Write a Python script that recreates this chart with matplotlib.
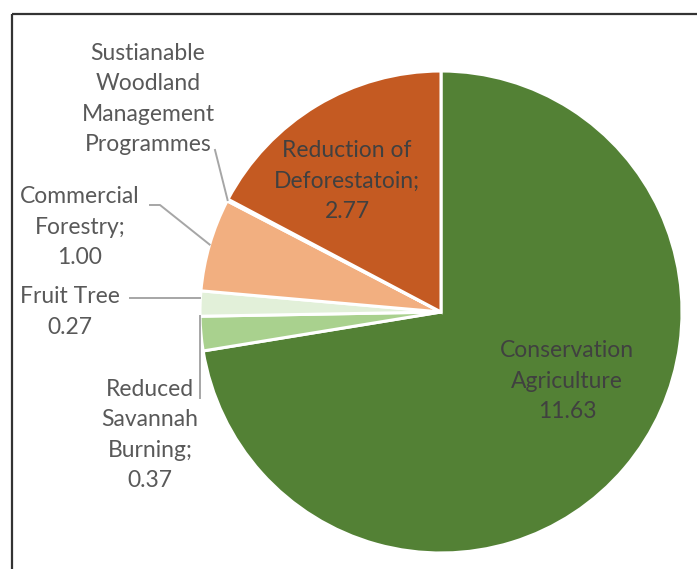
import numpy as np
import matplotlib
matplotlib.use('Agg')
import matplotlib.pyplot as plt

W, H = 697, 569

names = ['Conservation Agriculture', 'Reduced Savannah Burning', 'Fruit Tree',
         'Commercial Forestry', 'Sustainable Woodland Management Programmes',
         'Reduction of Deforestation']
values = [11.63, 0.37, 0.27, 1.00, 0.02, 2.77]
colors = ['#538135', '#A9D18E', '#E2F0D9', '#F2AF80', '#E9A877', '#C45A22']
label_texts = ['Conservation\nAgriculture\n11.63',
               'Reduced\nSavannah\nBurning;\n0.37',
               'Fruit Tree\n0.27',
               'Commercial\nForestry;\n1.00',
               'Sustianable\nWoodland\nManagement\nProgrammes',
               'Reduction of\nDeforestatoin;\n2.77']

plt.rcParams['font.family'] = ['Lato', 'DejaVu Sans']

fig = plt.figure(figsize=(W / 100, H / 100), dpi=100)
ax = fig.add_axes([0, 0, 1, 1])

cx, cy, r = 441, H - 312, 241
wedges, _ = ax.pie(values, colors=colors, startangle=90, counterclock=False,
                   center=(cx, cy), radius=r,
                   wedgeprops={'edgecolor': 'white', 'linewidth': 2.2})
ax.set_xlim(0, W)
ax.set_ylim(0, H)
ax.set_aspect('equal')
ax.axis('off')


def edge_point(w, frac):
    a = np.deg2rad(w.theta1 + (w.theta2 - w.theta1) * frac)
    return cx + r * np.cos(a), cy + r * np.sin(a)


txt_kw = dict(fontsize=16.5, ha='center', va='center', linespacing=1.55)
lead_kw = dict(color='#A6A6A6', lw=1.4)

# inside labels
ax.text(567, H - 381, label_texts[0], color='#404040', **txt_kw)
ax.text(347, H - 181, label_texts[5], color='#404040', **txt_kw)

# outside labels
ax.text(150, H - 435, label_texts[1], color='#595959', **txt_kw)
ax.text(70, H - 312, label_texts[2], color='#595959', **txt_kw)
ax.text(80, H - 227, label_texts[3], color='#595959', **txt_kw)
ax.text(148, H - 99, label_texts[4], color='#595959', **txt_kw)

# leader lines
x, y = edge_point(wedges[1], 0.0)
ax.plot([200, 200], [H - 398, y], **lead_kw)
x, y = edge_point(wedges[2], 0.75)
ax.plot([130, x], [H - 298, H - 298], **lead_kw)
x, y = edge_point(wedges[3], 0.5)
ax.plot([150, 160, x], [H - 205, H - 205, y], **lead_kw)
x, y = edge_point(wedges[4], 0.5)
ax.plot([215, x], [H - 150, y], **lead_kw)

# frame
ax.plot([12, 12], [0, H - 14], color='#333333', lw=1.6, solid_capstyle='butt')
ax.plot([12, W], [H - 14, H - 14], color='#333333', lw=1.6, solid_capstyle='butt')

fig.savefig('out.png', dpi=100)
